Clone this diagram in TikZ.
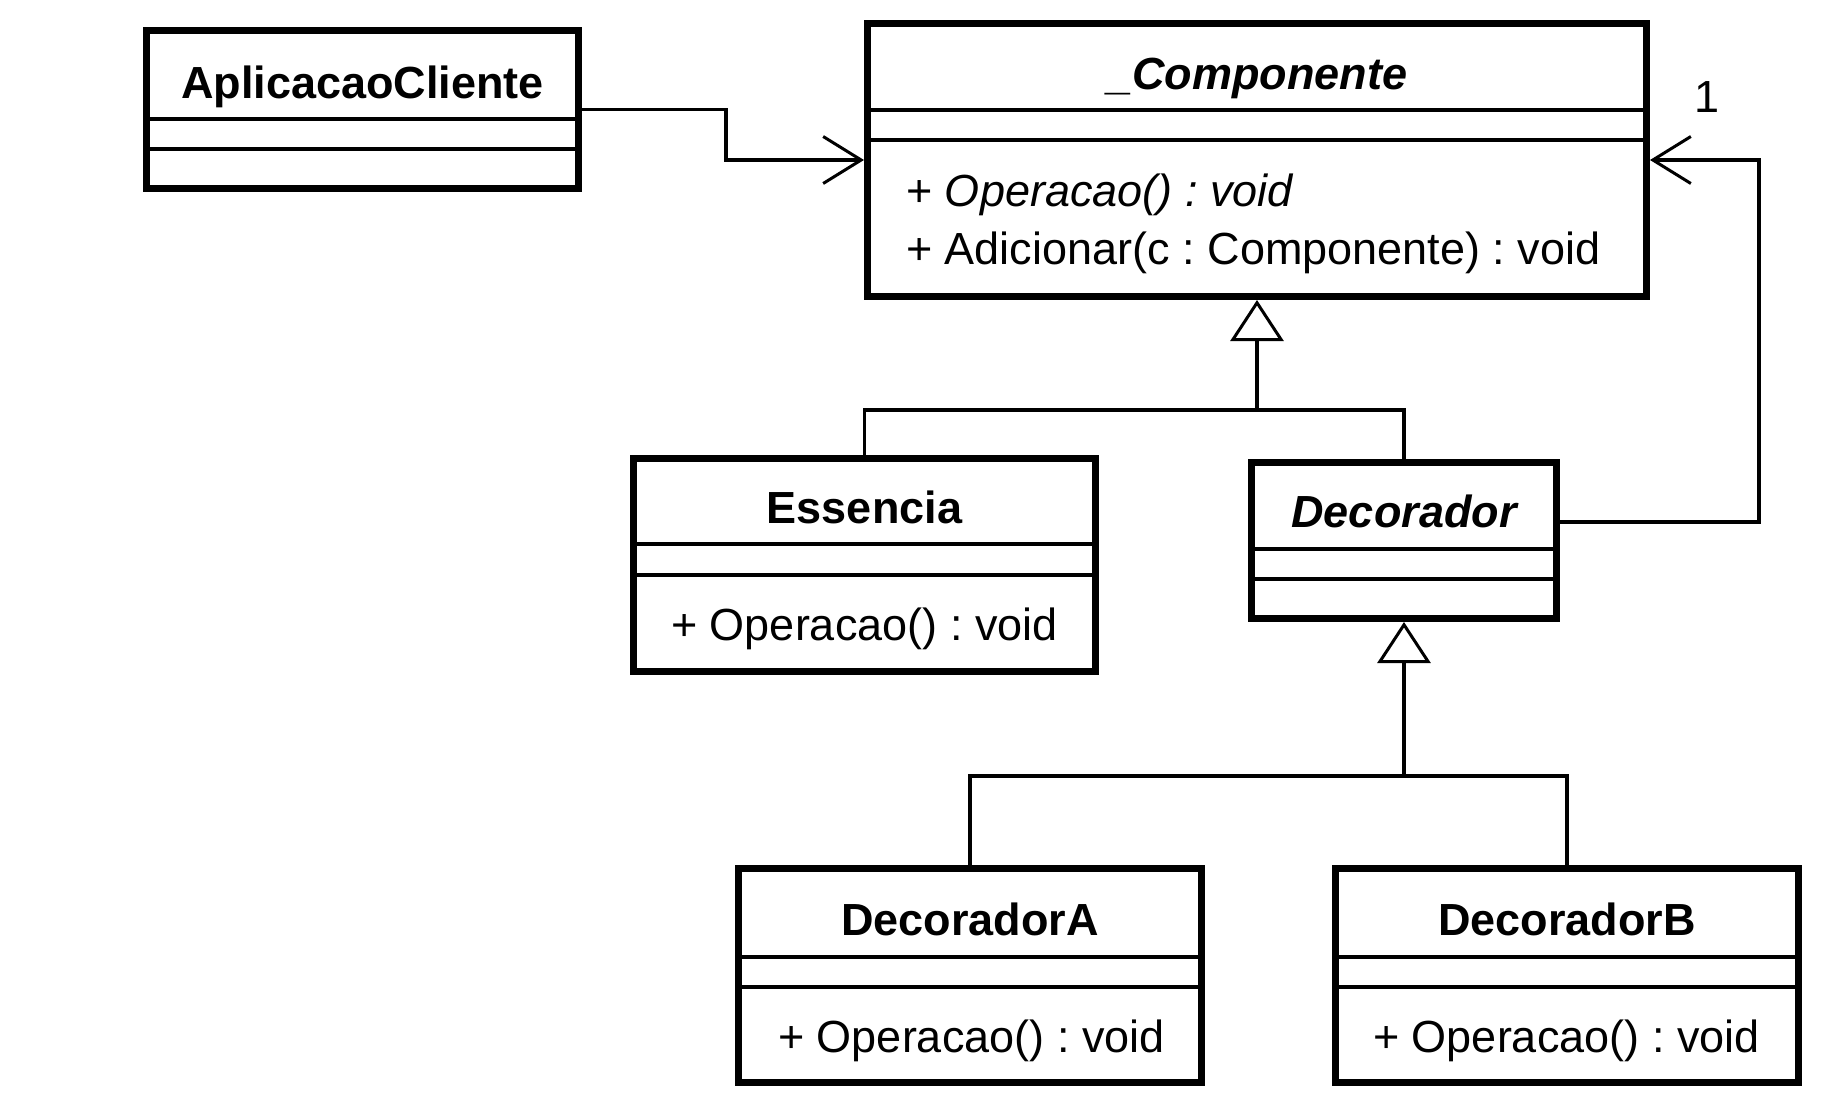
\documentclass[tikz,border=0pt]{standalone}
\usepackage{fontspec}
\setmainfont{Liberation Sans}
\usetikzlibrary{arrows.meta}
\frenchspacing
\begin{document}
\frenchspacing
\begin{tikzpicture}[x=1pt,y=-1pt,
  classbox/.style={draw, line width=7pt, rectangle, inner sep=0pt, fill=white},
  sep/.style={line width=3.5pt},
  ttl/.style={font=\fontsize{45}{54}\selectfont\bfseries, anchor=base, inner sep=0pt},
  ttli/.style={font=\fontsize{45}{54}\selectfont\bfseries\itshape, anchor=base, inner sep=0pt},
  op/.style={font=\fontsize{45}{54}\selectfont, anchor=base west, inner sep=0pt},
  lbl/.style={font=\fontsize{45}{54}\selectfont, inner sep=0pt},
  conn/.style={line width=3.5pt},
  assoc/.style={conn, -{Straight Barb[length=38pt,width=47pt,line width=3pt]}},
  gen/.style={conn, -{Triangle[open,length=41pt,width=53pt,line width=3pt]}}
]
\useasboundingbox (0,0) rectangle (1834,1116);
\fill[white] (0,0) rectangle (1834,1116);

% class boxes
\node[classbox, minimum width=432pt, minimum height=158pt] (app) at (362.5,109.5) {};
\node[classbox, minimum width=779pt, minimum height=273pt] (comp) at (1257,160) {};
\node[classbox, minimum width=462pt, minimum height=213pt] (ess) at (864.5,565) {};
\node[classbox, minimum width=305pt, minimum height=156pt] (dec) at (1404,540.5) {};
\node[classbox, minimum width=463pt, minimum height=214pt] (decA) at (970,975.5) {};
\node[classbox, minimum width=463pt, minimum height=214pt] (decB) at (1567,975.5) {};

% compartment separators
\draw[sep] (app.west |- 0,119) -- (app.east |- 0,119);
\draw[sep] (app.west |- 0,149) -- (app.east |- 0,149);
\draw[sep] (comp.west |- 0,110) -- (comp.east |- 0,110);
\draw[sep] (comp.west |- 0,140) -- (comp.east |- 0,140);
\draw[sep] (ess.west |- 0,544) -- (ess.east |- 0,544);
\draw[sep] (ess.west |- 0,575) -- (ess.east |- 0,575);
\draw[sep] (dec.west |- 0,549) -- (dec.east |- 0,549);
\draw[sep] (dec.west |- 0,579) -- (dec.east |- 0,579);
\draw[sep] (decA.west |- 0,957) -- (decA.east |- 0,957);
\draw[sep] (decA.west |- 0,987) -- (decA.east |- 0,987);
\draw[sep] (decB.west |- 0,957) -- (decB.east |- 0,957);
\draw[sep] (decB.west |- 0,987) -- (decB.east |- 0,987);

% texts
\node[ttl] (appT) at (362.5,98) {AplicacaoCliente};
\node[ttli] (compT) at (1257,89) {\_Componente};
\node[op] (compO1) at (906,206) {+ \textit{Operacao() : void}};
\node[op] (compO2) at (906,264) {+ Adicionar(c : Componente) : void};
\node[ttl] (essT) at (864.5,523) {Essencia};
\node[op] (essO) at (671,640) {+ Operacao() : void};
\node[ttli] (decT) at (1404,527) {Decorador};
\node[ttl] (decAT) at (970,935) {DecoradorA};
\node[op] (decAO) at (778,1052) {+ Operacao() : void};
\node[ttl] (decBT) at (1567,935) {DecoradorB};
\node[op] (decBO) at (1373,1052) {+ Operacao() : void};

% connectors
\coordinate (k1) at (726,160);
\draw[assoc] (app.east) -| (k1) -- (comp.west);

\coordinate (k2) at (1759,522);
\coordinate (k3) at (1759,160);
\draw[assoc] (k2 -| dec.east) -- (k2) -- (k3) -- (comp.east);
\node[lbl] (mult) at (1707,97) {1};

\coordinate (j1) at (1257,410);
\draw[conn] (ess.north) |- (j1) -| (dec.north);
\draw[gen] (j1) -- (comp.south);

\coordinate (j2) at (1404,776);
\draw[conn] (decA.north) |- (j2) -| (decB.north);
\draw[gen] (j2) -- (dec.south);
\end{tikzpicture}
\end{document}
